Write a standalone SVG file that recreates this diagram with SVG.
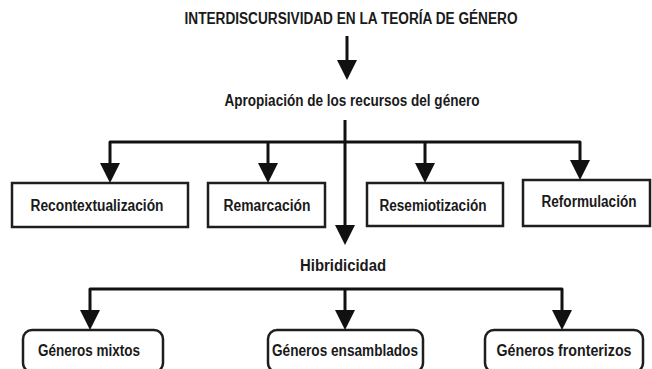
<svg xmlns="http://www.w3.org/2000/svg" xmlns:xlink="http://www.w3.org/1999/xlink" width="652" height="369" viewBox="0 0 652 369">
<style>
text{font-family:"Liberation Sans Narrow","Liberation Sans",Arial,sans-serif;font-weight:bold;font-size:16px;fill:#1a1a1a;text-anchor:middle}
.box{fill:#fff;stroke:#1e1e1e;stroke-width:2.5}
.ln{fill:none;stroke:#111;stroke-width:3;stroke-linejoin:round}
.ah{fill:#111}
</style>
<defs>
<path id="ah" d="M-10,-20 L10,-20 L0,0 Z"/>
</defs>
<rect width="652" height="369" fill="#fff"/>
<g id="title"><text x="351" y="24" textLength="333" lengthAdjust="spacingAndGlyphs">INTERDISCURSIVIDAD EN LA TEORÍA DE GÉNERO</text></g>
<g id="apropiacion"><text x="352" y="106" textLength="255" lengthAdjust="spacingAndGlyphs">Apropiación de los recursos del género</text></g>
<g id="recontextualizacion"><rect class="box" x="12" y="183" width="176" height="44"/><text x="97" y="211" textLength="133" lengthAdjust="spacingAndGlyphs">Recontextualización</text></g>
<g id="remarcacion"><rect class="box" x="208" y="183" width="117" height="44"/><text x="267" y="211" textLength="87" lengthAdjust="spacingAndGlyphs">Remarcación</text></g>
<g id="resemiotizacion"><rect class="box" x="367" y="183" width="136" height="43"/><text x="433" y="211" textLength="107" lengthAdjust="spacingAndGlyphs">Resemiotización</text></g>
<g id="reformulacion"><rect class="box" x="523" y="180" width="127" height="46"/><text x="589" y="207" textLength="95" lengthAdjust="spacingAndGlyphs">Reformulación</text></g>
<g id="hibridicidad"><text x="343" y="271" textLength="86" lengthAdjust="spacingAndGlyphs">Hibridicidad</text></g>
<g id="generos-mixtos"><rect class="box" x="23" y="330" width="140" height="42" rx="9"/><text x="89" y="356" textLength="102" lengthAdjust="spacingAndGlyphs">Géneros mixtos</text></g>
<g id="generos-ensamblados"><rect class="box" x="268" y="330" width="155" height="42" rx="9"/><text x="345" y="356" textLength="146" lengthAdjust="spacingAndGlyphs">Géneros ensamblados</text></g>
<g id="generos-fronterizos"><rect class="box" x="485" y="330" width="158" height="42" rx="9"/><text x="564" y="356" textLength="135" lengthAdjust="spacingAndGlyphs">Géneros fronterizos</text></g>
<g id="connectors">
<path class="ln" d="M347,36 V62"/>
<use xlink:href="#ah" href="#ah" class="ah" x="347" y="80"/>
<path class="ln" d="M345,120 V228"/>
<use xlink:href="#ah" href="#ah" class="ah" x="345" y="245"/>
<path class="ln" d="M110,165 V142 H580 V165"/>
<path class="ln" d="M268,142 V165"/>
<path class="ln" d="M425,142 V165"/>
<use xlink:href="#ah" href="#ah" class="ah" x="110" y="183"/>
<use xlink:href="#ah" href="#ah" class="ah" x="268" y="183"/>
<use xlink:href="#ah" href="#ah" class="ah" x="425" y="183"/>
<use xlink:href="#ah" href="#ah" class="ah" x="580" y="180"/>
<path class="ln" d="M90,312 V289 H562 V312"/>
<path class="ln" d="M345,289 V312"/>
<use xlink:href="#ah" href="#ah" class="ah" x="90" y="330"/>
<use xlink:href="#ah" href="#ah" class="ah" x="345" y="330"/>
<use xlink:href="#ah" href="#ah" class="ah" x="562" y="330"/>
</g>
</svg>
